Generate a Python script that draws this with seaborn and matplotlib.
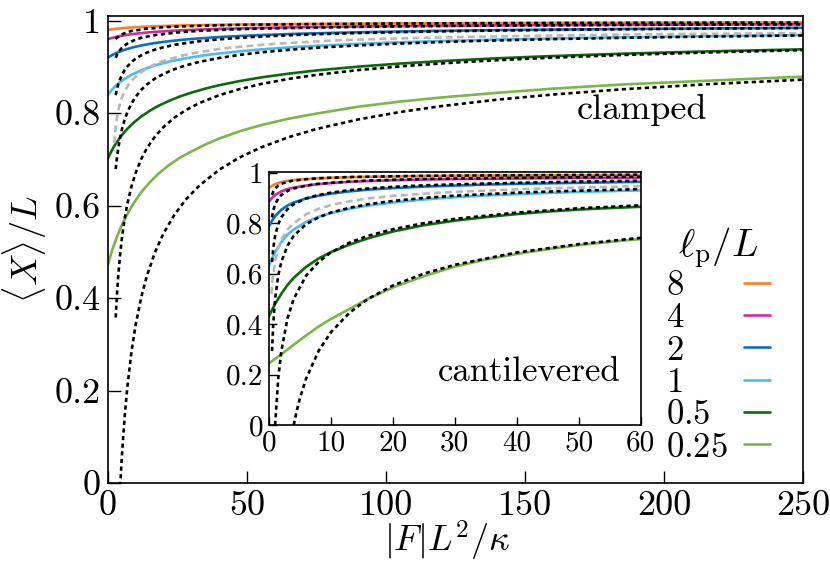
import matplotlib
matplotlib.use("Agg")
import matplotlib.pyplot as plt
import seaborn as sns
from matplotlib.ticker import FuncFormatter, FixedLocator

# ---------------- data ----------------
lp_labels = ["8", "4", "2", "1", "0.5", "0.25"]
colors = ["#ff7f1e", "#cc2e99", "#0a6fc0", "#4cbbee", "#0b6b0b", "#7ab648"]

# main panel: clamped
f_main = [0, 1, 2, 3, 4, 5, 7, 9, 12, 15, 18, 22, 26, 30, 35, 40, 47, 55, 65, 75,
          90, 105, 120, 140, 160, 185, 215, 250]
clamped_8 = [0.980, 0.981, 0.9818, 0.9825, 0.9832, 0.9837, 0.9847, 0.9856, 0.9866, 0.9874,
             0.9881, 0.9889, 0.9896, 0.9901, 0.9907, 0.9911, 0.9917, 0.9922, 0.9928, 0.9932,
             0.9937, 0.9942, 0.9945, 0.9949, 0.9952, 0.9955, 0.9958, 0.9961]
clamped_4 = [0.960, 0.9619, 0.9636, 0.9650, 0.9663, 0.9675, 0.9695, 0.9711, 0.9732, 0.9749,
             0.9763, 0.9778, 0.9791, 0.9802, 0.9813, 0.9823, 0.9834, 0.9845, 0.9855, 0.9864,
             0.9875, 0.9883, 0.9890, 0.9898, 0.9904, 0.9910, 0.9917, 0.9922]
clamped_2 = [0.920, 0.9238, 0.9271, 0.9300, 0.9326, 0.9349, 0.9389, 0.9423, 0.9464, 0.9498,
             0.9526, 0.9556, 0.9582, 0.9604, 0.9626, 0.9646, 0.9668, 0.9689, 0.9711, 0.9728,
             0.9750, 0.9767, 0.9781, 0.9796, 0.9808, 0.9821, 0.9833, 0.9845]
clamped_1 = [0.840, 0.8476, 0.8543, 0.8601, 0.8653, 0.8699, 0.8779, 0.8846, 0.8928, 0.8995,
             0.9051, 0.9113, 0.9164, 0.9207, 0.9253, 0.9291, 0.9336, 0.9379, 0.9422, 0.9457,
             0.9499, 0.9533, 0.9561, 0.9591, 0.9616, 0.9642, 0.9666, 0.9690]
clamped_05 = [0.7025, 0.7149, 0.7258, 0.7356, 0.7443, 0.7523, 0.7662, 0.7781, 0.7928, 0.8050,
              0.8153, 0.8267, 0.8363, 0.8444, 0.8530, 0.8604, 0.8690, 0.8772, 0.8855, 0.8924,
              0.9006, 0.9073, 0.9127, 0.9187, 0.9236, 0.9286, 0.9335, 0.9381]
clamped_025 = [0.472, 0.493, 0.512, 0.528, 0.544, 0.558, 0.582, 0.603, 0.629, 0.650,
               0.668, 0.688, 0.704, 0.717, 0.732, 0.745, 0.760, 0.774, 0.788, 0.799,
               0.814, 0.825, 0.834, 0.844, 0.853, 0.862, 0.870, 0.879]

f_main_dot = [2.8, 3.2, 3.7, 4.3, 5, 6, 7, 8.5, 10, 12, 14, 17, 20, 24, 28, 33, 40, 47, 55,
              65, 75, 90, 105, 120, 140, 160, 185, 215, 250]
clamped_dot_8 = [0.960, 0.963, 0.965, 0.968, 0.970, 0.973, 0.975, 0.978, 0.979, 0.981, 0.983,
                 0.984, 0.986, 0.987, 0.988, 0.989, 0.990, 0.991, 0.9915, 0.992, 0.9927,
                 0.9934, 0.9939, 0.9943, 0.9947, 0.9951, 0.9954, 0.9957, 0.9960]
clamped_dot_4 = [0.920, 0.925, 0.931, 0.936, 0.941, 0.946, 0.9505, 0.955, 0.959, 0.963, 0.9655,
                 0.969, 0.971, 0.974, 0.976, 0.978, 0.980, 0.9815, 0.983, 0.984, 0.985,
                 0.9866, 0.9877, 0.9885, 0.9893, 0.990, 0.9908, 0.9915, 0.9921]
clamped_dot_2 = [0.839, 0.850, 0.862, 0.872, 0.882, 0.893, 0.901, 0.9105, 0.918, 0.925, 0.931,
                 0.9376, 0.9425, 0.9477, 0.9516, 0.9556, 0.9597, 0.9628, 0.9657, 0.9685, 0.9707,
                 0.9733, 0.9753, 0.9769, 0.9787, 0.980, 0.9814, 0.9828, 0.9841]
clamped_dot_1 = [0.679, 0.701, 0.723, 0.744, 0.764, 0.7855, 0.802, 0.821, 0.8356, 0.8505, 0.862,
                 0.875, 0.885, 0.8953, 0.9033, 0.9111, 0.9193, 0.9258, 0.9315, 0.937, 0.9415,
                 0.9466, 0.9506, 0.9539, 0.9573, 0.9601, 0.9629, 0.9656, 0.9681]
clamped_dot_05 = [0.358, 0.402, 0.446, 0.489, 0.528, 0.571, 0.604, 0.642, 0.671, 0.701, 0.724,
                  0.750, 0.770, 0.7907, 0.8065, 0.8221, 0.8388, 0.8514, 0.8629, 0.8741, 0.8828,
                  0.8932, 0.9012, 0.9077, 0.9146, 0.9201, 0.9258, 0.9312, 0.9363]
f_main_dot_025 = [4.3, 5, 6, 7, 8.5, 10, 12, 14, 17, 20, 24, 28, 33, 40, 47, 55, 65, 75, 90,
                  105, 120, 140, 160, 185, 215, 250]
clamped_dot_025 = [-0.023, 0.056, 0.142, 0.208, 0.285, 0.343, 0.402, 0.448, 0.500, 0.540,
                   0.581, 0.613, 0.644, 0.6775, 0.703, 0.7258, 0.748, 0.7658, 0.7864, 0.8024,
                   0.8153, 0.8292, 0.8403, 0.8516, 0.8624, 0.8725]

f_main_gray = [2.3, 2.8, 3.5, 4.5, 6, 8, 10, 13, 16, 20, 25, 30, 40, 50, 60, 80, 100, 130,
               160, 200, 250]
clamped_gray = [0.735, 0.770, 0.800, 0.825, 0.848, 0.867, 0.879, 0.893, 0.903, 0.913, 0.922,
                0.929, 0.939, 0.945, 0.950, 0.957, 0.961, 0.965, 0.968, 0.971, 0.973]

# inset: cantilevered
f_ins = [0, 0.5, 1, 2, 3, 4, 6, 8, 10, 13, 16, 20, 25, 30, 35, 40, 45, 50, 55, 60]
cant_8 = [0.940, 0.948, 0.955, 0.963, 0.968, 0.971, 0.975, 0.978, 0.980, 0.982, 0.984, 0.985,
          0.987, 0.988, 0.989, 0.989, 0.990, 0.990, 0.991, 0.991]
cant_4 = [0.885, 0.900, 0.912, 0.926, 0.935, 0.941, 0.949, 0.955, 0.959, 0.964, 0.967, 0.970,
          0.973, 0.975, 0.976, 0.977, 0.978, 0.979, 0.979, 0.980]
cant_2 = [0.787, 0.810, 0.828, 0.853, 0.870, 0.882, 0.898, 0.909, 0.917, 0.926, 0.933, 0.939,
          0.945, 0.949, 0.953, 0.956, 0.958, 0.960, 0.962, 0.964]
cant_1 = [0.632, 0.660, 0.685, 0.725, 0.755, 0.775, 0.805, 0.825, 0.840, 0.857, 0.870, 0.882,
          0.894, 0.903, 0.910, 0.915, 0.920, 0.924, 0.927, 0.930]
cant_05 = [0.432, 0.456, 0.480, 0.520, 0.555, 0.583, 0.627, 0.660, 0.685, 0.715, 0.740, 0.767,
           0.792, 0.810, 0.824, 0.836, 0.846, 0.854, 0.860, 0.865]
cant_025 = [0.244, 0.253, 0.262, 0.280, 0.299, 0.318, 0.355, 0.390, 0.420, 0.460, 0.500, 0.545,
            0.590, 0.628, 0.656, 0.678, 0.697, 0.713, 0.726, 0.737]

f_ins_dot = [0.5, 0.7, 1, 1.5, 2, 3, 4, 6, 8, 10, 13, 16, 20, 25, 30, 40, 50, 60]
cant_dot_8 = [0.912, 0.925, 0.9375, 0.949, 0.956, 0.964, 0.969, 0.974, 0.978, 0.980, 0.983,
              0.984, 0.986, 0.9875, 0.9886, 0.990, 0.991, 0.992]
cant_dot_4 = [0.823, 0.851, 0.875, 0.898, 0.912, 0.928, 0.9375, 0.949, 0.956, 0.960, 0.965,
              0.969, 0.972, 0.975, 0.977, 0.980, 0.982, 0.984]
cant_dot_2 = [0.646, 0.701, 0.750, 0.796, 0.823, 0.856, 0.875, 0.898, 0.912, 0.921, 0.931,
              0.9375, 0.944, 0.950, 0.954, 0.960, 0.965, 0.968]
cant_dot_1 = [0.293, 0.402, 0.500, 0.592, 0.646, 0.711, 0.750, 0.796, 0.823, 0.842, 0.861,
              0.875, 0.888, 0.900, 0.909, 0.921, 0.929, 0.935]
f_ins_dot_05 = [1, 1.5, 2, 3, 4, 6, 8, 10, 13, 16, 20, 25, 30, 40, 50, 60]
cant_dot_05 = [0.0, 0.184, 0.293, 0.423, 0.500, 0.592, 0.646, 0.684, 0.723, 0.750, 0.776, 0.800,
               0.817, 0.842, 0.859, 0.871]
f_ins_dot_025 = [4, 4.5, 5, 6, 8, 10, 13, 16, 20, 25, 30, 40, 50, 60]
cant_dot_025 = [0.0, 0.057, 0.106, 0.184, 0.293, 0.368, 0.445, 0.500, 0.553, 0.600, 0.635,
                0.684, 0.717, 0.742]

f_ins_gray = [0.4, 0.6, 1, 1.5, 2, 3, 4, 6, 8, 10, 13, 16, 20, 25, 30, 35, 40, 45, 50, 55, 60]
cant_gray = [0.52, 0.58, 0.65, 0.70, 0.735, 0.775, 0.80, 0.835, 0.857, 0.872, 0.887, 0.898,
             0.908, 0.917, 0.924, 0.929, 0.934, 0.938, 0.941, 0.944, 0.947]

main_ticks_x = [0, 50, 100, 150, 200, 250]
main_ticks_y = [0, 0.2, 0.4, 0.6, 0.8, 1]
ins_ticks_x = [0, 10, 20, 30, 40, 50, 60]
ins_ticks_y = [0, 0.2, 0.4, 0.6, 0.8, 1]

# ---------------- style ----------------
sns.set_theme(style="ticks")
plt.rcParams["font.family"] = ["cmr10", "DejaVu Serif"]
plt.rcParams["mathtext.fontset"] = "cm"
plt.rcParams["axes.formatter.use_mathtext"] = True
plt.rcParams["axes.edgecolor"] = "black"
plt.rcParams["text.color"] = "black"
plt.rcParams["axes.labelcolor"] = "black"
plt.rcParams["xtick.color"] = "black"
plt.rcParams["ytick.color"] = "black"

fig = plt.figure(figsize=(8.3, 5.74), dpi=100)
ax = fig.add_axes([0.130, 0.1585, 0.8375, 0.8135])
axin = fig.add_axes([0.324, 0.2596, 0.448, 0.4408])

SOLID_LW = 1.9
DOT = (0, (1.6, 1.3))
DOT_LW = 1.9
GRAY_DASH = (0, (2.6, 1.6))


def draw(a, x, y, **kw):
    sns.lineplot(x=x, y=y, ax=a, estimator=None, sort=False, errorbar=None, **kw)
    return a.lines[-1]


main_solid = [clamped_8, clamped_4, clamped_2, clamped_1, clamped_05, clamped_025]
main_dot = [clamped_dot_8, clamped_dot_4, clamped_dot_2, clamped_dot_1, clamped_dot_05]
ins_solid = [cant_8, cant_4, cant_2, cant_1, cant_05, cant_025]
ins_dot = [cant_dot_8, cant_dot_4, cant_dot_2, cant_dot_1]

handles = []
for ys, c in zip(main_solid, colors):
    handles.append(draw(ax, f_main, ys, color=c, lw=SOLID_LW))
draw(ax, f_main_gray, clamped_gray, color="#b8b8b8", lw=SOLID_LW, linestyle=GRAY_DASH)
for ys in main_dot:
    draw(ax, f_main_dot, ys, color="black", lw=DOT_LW, linestyle=DOT)
draw(ax, f_main_dot_025, clamped_dot_025, color="black", lw=DOT_LW, linestyle=DOT)

for ys, c in zip(ins_solid, colors):
    draw(axin, f_ins, ys, color=c, lw=SOLID_LW)
draw(axin, f_ins_gray, cant_gray, color="#b8b8b8", lw=SOLID_LW, linestyle=GRAY_DASH)
for ys in ins_dot:
    draw(axin, f_ins_dot, ys, color="black", lw=DOT_LW, linestyle=DOT)
draw(axin, f_ins_dot_05, cant_dot_05, color="black", lw=DOT_LW, linestyle=DOT)
draw(axin, f_ins_dot_025, cant_dot_025, color="black", lw=DOT_LW, linestyle=DOT)

# main axes
ax.set_xlim(0, 250)
ax.set_ylim(0, 1.01)
ax.xaxis.set_major_locator(FixedLocator(main_ticks_x))
ax.yaxis.set_major_locator(FixedLocator(main_ticks_y))
ax.xaxis.set_major_formatter(FuncFormatter(lambda v, p: f"{v:g}"))
ax.yaxis.set_major_formatter(FuncFormatter(lambda v, p: f"{v:g}"))
ax.tick_params(direction="in", length=9, width=1.0, labelsize=26, pad=5,
               top=False, right=False)
ax.set_xlabel(r"$|F|L^2/\kappa$", fontsize=26)
ax.xaxis.set_label_coords(0.488, -0.078)
ax.set_ylabel(r"$\langle X\rangle/L$", fontsize=26, labelpad=4)
for s in ax.spines.values():
    s.set_linewidth(1.2)
    s.set_color("black")
    s.set_visible(True)
ax.text(0.768, 0.80, "clamped", transform=ax.transAxes,
        fontsize=26, ha="center", va="center")

# inset axes
axin.set_facecolor("white")
axin.set_xlim(0, 60)
axin.set_ylim(0, 1.003)
axin.xaxis.set_major_locator(FixedLocator(ins_ticks_x))
axin.yaxis.set_major_locator(FixedLocator(ins_ticks_y))
axin.xaxis.set_major_formatter(FuncFormatter(lambda v, p: f"{v:g}"))
axin.yaxis.set_major_formatter(FuncFormatter(lambda v, p: f"{v:g}"))
axin.tick_params(direction="in", length=6, width=1.0, labelsize=21, pad=4,
                 top=False, right=False)
axin.set_xlabel("")
axin.set_ylabel("")
for s in axin.spines.values():
    s.set_linewidth(1.2)
    s.set_color("black")
    s.set_visible(True)
axin.text(0.70, 0.21, "cantilevered", transform=axin.transAxes,
          fontsize=25, ha="center", va="center")

# legend: labels left-aligned, short lines at the right
leg_labels = [f"${lab}$" for lab in lp_labels]
leg = ax.legend(handles, leg_labels, title=r"$\ell_{\mathrm{p}}/L$",
                loc="upper left", bbox_to_anchor=(0.803, 0.607),
                bbox_transform=fig.transFigure, frameon=False,
                markerfirst=False, fontsize=25, title_fontsize=28,
                handlelength=0.75, handletextpad=0.45, labelspacing=0.02,
                borderpad=0.0, borderaxespad=0.0)
for ln in leg.get_lines():
    ln.set_linewidth(1.9)
ROW_W = 104  # pixels from label start to end of the line sample
hb = getattr(leg, "_legend_handle_box", None)
if hb is not None:
    for col in hb.get_children():
        col.align = "left"
        for row in col.get_children():
            row.mode = "expand"
            row.width = ROW_W

fig.savefig("out.png", dpi=100)
